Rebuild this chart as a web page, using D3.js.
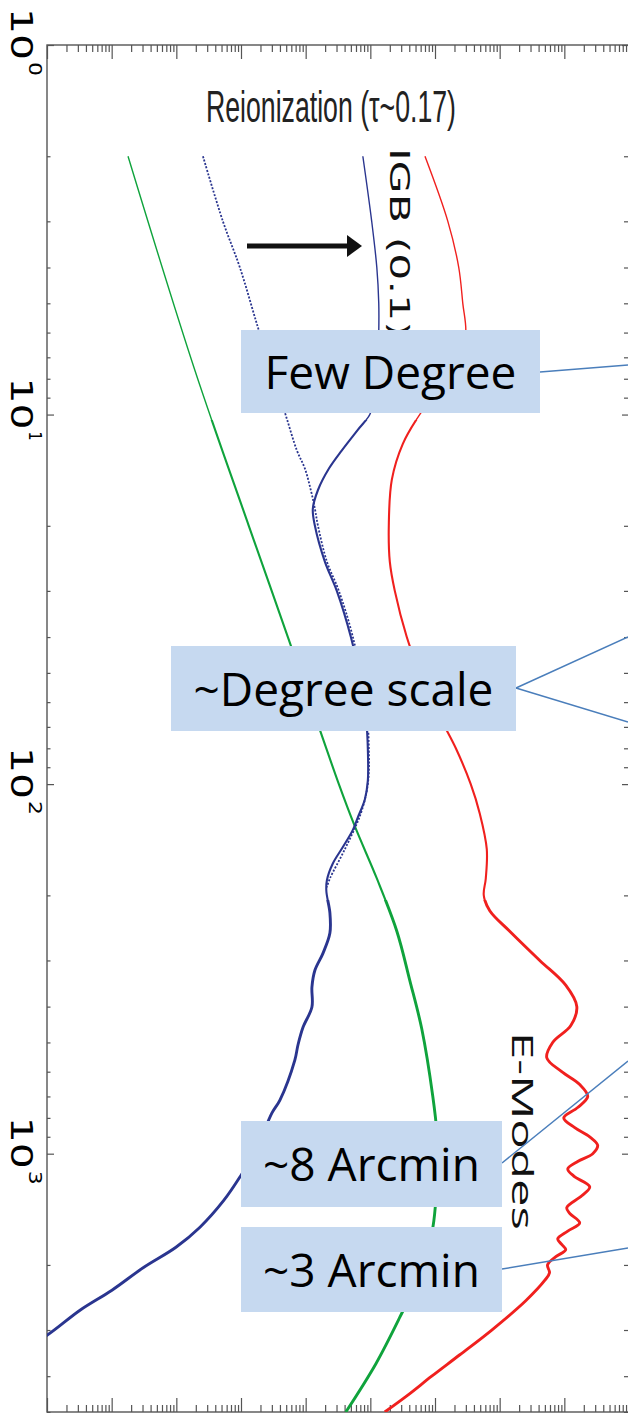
<!DOCTYPE html>
<html>
<head>
<meta charset="utf-8">
<script src="https://cdn.jsdelivr.net/npm/d3@7"></script>
<style>
  body { margin: 0; background: #fff; }
  .tick line { stroke: #555; stroke-width: 1.2; }
</style>
</head>
<body>
<div id="chart"></div>
<script>
// CMB polarisation spectra, drawn rotated: multipole l runs down, power runs right

// E-modes (red)
const eEll = [2, 3, 4, 5, 6, 7, 8, 9, 10, 12, 15, 20, 25, 30, 40, 50, 60, 70, 80, 100, 120, 150, 180, 200,
  220, 250, 300, 350, 400, 450, 500, 550, 600, 650, 700, 750, 800, 850, 900, 950, 1000, 1050, 1100, 1150,
  1230, 1300, 1400, 1450, 1540, 1620, 1700, 1760, 1820, 1900, 2000, 2100, 2200, 2500, 3000, 3500, 4000, 4500, 5000];
const eMode = [0.70, 1.58, 2.33, 2.69, 2.99, 2.42, 1.58, 0.92, 0.58, 0.318, 0.215, 0.193, 0.20, 0.239, 0.366, 0.58,
  0.89, 1.42, 2.10, 3.57, 4.92, 6.32, 6.10, 5.68, 7.03, 14.3, 41.7, 105, 156, 126, 66, 53.5, 91, 173, 230, 161,
  98, 145, 247, 328, 275, 161, 113, 140, 247, 186, 109, 121, 173, 113, 79, 91, 105, 74, 55, 59, 50, 25.3, 7.55,
  2.42, 0.89, 0.38, 0.167];

// IGB, r = 0.1 (blue solid)
const bEll = [2, 3, 4, 5, 6, 7, 8, 9, 10, 11, 12.5, 14, 16, 18, 20, 25, 30, 40, 50, 60, 70, 80, 98, 110, 123, 133,
  148, 164, 182, 195, 223, 253, 287, 319, 354, 401, 455, 508, 558, 716, 777, 978, 1157, 1336, 1581, 1791, 2029,
  2341, 2652, 3100, 3400];
const bMode = [0.0766, 0.105, 0.126, 0.135, 0.135, 0.131, 0.126, 0.117, 0.098, 0.064, 0.0363, 0.0229, 0.0155,
  0.0129, 0.0139, 0.0198, 0.0303, 0.050, 0.0664, 0.079, 0.088, 0.0914, 0.0914, 0.0822, 0.0641, 0.0537, 0.0376,
  0.0263, 0.0213, 0.0209, 0.0237, 0.0237, 0.0185, 0.0139, 0.0125, 0.0125, 0.0091, 0.0076, 0.0068, 0.0040, 0.0030,
  0.0017, 0.00096, 0.000545, 0.000232, 0.0000986, 0.0000315, 0.0000101, 0.00000324, 0.000001, 0.0000004];

// IGB without reionization (blue dotted)
const bNoReionEll = [2, 3, 4, 5.8, 8, 10, 12.5, 14, 16, 18, 20, 25, 30, 40, 60, 80, 100, 120, 150, 180, 190];
const bNoReion = [0.000258, 0.000525, 0.000961, 0.00182, 0.00323, 0.00488, 0.00731, 0.00973, 0.0120, 0.0139,
  0.0155, 0.0213, 0.0326, 0.0537, 0.0851, 0.0948, 0.0914, 0.0713, 0.0404, 0.0237, 0.0213];

// green curve
const gEll = [2, 7.6, 20, 40, 100, 130, 180, 250, 340, 460, 700, 880, 1100, 1340, 1640, 2240, 2770, 3700, 5000];
const gVal = [0.0000179, 0.000194, 0.00132, 0.00531, 0.0326, 0.0575, 0.126, 0.257, 0.408, 0.625, 0.925, 1.07,
  1.10, 1.03, 0.893, 0.505, 0.286, 0.122, 0.0418];

// left axis labels (exponents of 10)
const yLabelExps = ['0', '1', '2', '3'];

// callout boxes
const callouts = [
  { text: 'Few Degree', box: [241, 330, 299, 83], from: [540, 372], to: [[628, 365]] },
  { text: '~Degree scale', box: [171, 646, 345, 85], from: [516, 688], to: [[628, 637], [628, 722]] },
  { text: '~8 Arcmin', box: [241, 1121, 261, 86], from: [502, 1163], to: [[628, 1061]] },
  { text: '~3 Arcmin', box: [241, 1227, 261, 85], from: [502, 1269], to: [[628, 1248]] }
];

const W = 628, H = 1413;
const plot = { left: 47, top: 45, right: 629, bottom: 1412 };

const svg = d3.select('#chart').append('svg')
  .attr('width', W)
  .attr('height', H);

const x = d3.scaleLog().domain([1e-6, 1e3]).range([plot.left, plot.right]);
const y = d3.scaleLog().domain([1, 5000]).range([plot.top, plot.bottom]);

const isMajor = v => Math.abs(Math.log10(v) - Math.round(Math.log10(v))) < 1e-6;

// ticks on all four sides, pointing inwards
function ticks(axisFn, scale, transform, majorLen, minorLen) {
  const vals = scale.ticks();
  [[vals.filter(isMajor), majorLen], [vals.filter(v => !isMajor(v)), minorLen]].forEach(([tv, len]) => {
    const g = svg.append('g')
      .attr('transform', transform)
      .call(axisFn(scale).tickValues(tv).tickSize(len).tickFormat(''));
    g.select('.domain').remove();
  });
}
ticks(d3.axisBottom, x, `translate(0,${plot.top})`, 14, 7);
ticks(d3.axisTop, x, `translate(0,${plot.bottom})`, 14, 7);
ticks(d3.axisRight, y, `translate(${plot.left},0)`, 7, 3.5);
ticks(d3.axisLeft, y, `translate(${plot.right},0)`, 7, 5);

svg.append('rect')
  .attr('x', plot.left).attr('y', plot.top)
  .attr('width', plot.right - plot.left).attr('height', plot.bottom - plot.top)
  .attr('fill', 'none').attr('stroke', '#555').attr('stroke-width', 1.4);

// rotated decade labels
yLabelExps.forEach(e => {
  const ty = y(Math.pow(10, +e));
  svg.append('text')
    .attr('transform', `translate(11,${ty - 37}) rotate(90)`)
    .attr('font-family', 'DejaVu Sans').attr('font-size', 30)
    .attr('textLength', 52).attr('lengthAdjust', 'spacingAndGlyphs')
    .text('10');
  svg.append('text')
    .attr('transform', `translate(29,${ty + 17}) rotate(90)`)
    .attr('font-family', 'DejaVu Sans').attr('font-size', 18)
    .attr('textLength', e === '1' ? 9 : 14).attr('lengthAdjust', 'spacingAndGlyphs')
    .text(e);
});

// curves
const clip = svg.append('defs');
const bands = [[plot.top, 420, 1.4], [420, 900, 2.1], [900, plot.bottom, 2.9]];
bands.forEach(([y0, y1], i) => {
  clip.append('clipPath').attr('id', 'band' + i)
    .append('rect').attr('x', plot.left).attr('y', y0)
    .attr('width', plot.right - plot.left).attr('height', y1 - y0);
});
clip.append('clipPath').attr('id', 'plotclip')
  .append('rect').attr('x', plot.left).attr('y', plot.top)
  .attr('width', plot.right - plot.left).attr('height', plot.bottom - plot.top);

const line = d3.line()
  .x(d => x(d[1]))
  .y(d => y(d[0]))
  .curve(d3.curveCatmullRom.alpha(0.5));

function curve(ell, vals, color) {
  const pts = ell.map((l, i) => [l, vals[i]]);
  bands.forEach(([, , w], i) => {
    svg.append('g').attr('clip-path', 'url(#plotclip)')
      .append('path')
      .attr('clip-path', `url(#band${i})`)
      .attr('d', line(pts))
      .attr('fill', 'none')
      .attr('stroke', color)
      .attr('stroke-width', w)
      .attr('stroke-linejoin', 'round');
  });
}

curve(gEll, gVal, '#0fa33c');
svg.append('path')
  .attr('d', line(bNoReionEll.map((l, i) => [l, bNoReion[i]])))
  .attr('fill', 'none')
  .attr('stroke', '#2a358f')
  .attr('stroke-width', 1.8)
  .attr('stroke-dasharray', '2,1.6');
curve(bEll, bMode, '#2a358f');
curve(eEll, eMode, '#f0201e');

// title and curve labels
svg.append('text')
  .attr('x', 206).attr('y', 122)
  .attr('font-family', 'Liberation Sans').attr('font-size', 44)
  .attr('textLength', 250).attr('lengthAdjust', 'spacingAndGlyphs')
  .attr('fill', '#222')
  .text('Reionization (τ~0.17)');

svg.append('text')
  .attr('transform', 'translate(390,148) rotate(90)')
  .attr('font-family', 'DejaVu Sans').attr('font-size', 27)
  .attr('textLength', 190).attr('lengthAdjust', 'spacingAndGlyphs')
  .attr('fill', '#111')
  .text('IGB (0.1)');

svg.append('text')
  .attr('transform', 'translate(512,1032) rotate(90)')
  .attr('font-family', 'Open Sans').attr('font-size', 29)
  .attr('textLength', 198).attr('lengthAdjust', 'spacingAndGlyphs')
  .attr('fill', '#111')
  .text('E-Modes');

// arrow
svg.append('line')
  .attr('x1', 247).attr('y1', 246).attr('x2', 350).attr('y2', 246)
  .attr('stroke', '#111').attr('stroke-width', 5);
svg.append('path')
  .attr('d', 'M347,235 L362,246 L347,257 Z')
  .attr('fill', '#111');

// callouts
callouts.forEach(c => {
  const [bx, by, bw, bh] = c.box;
  c.to.forEach(t => {
    svg.append('line')
      .attr('x1', c.from[0]).attr('y1', c.from[1])
      .attr('x2', t[0]).attr('y2', t[1])
      .attr('stroke', '#4a7ebb').attr('stroke-width', 1.5);
  });
  svg.append('rect')
    .attr('x', bx).attr('y', by).attr('width', bw).attr('height', bh)
    .attr('fill', '#c6d9f0');
  svg.append('text')
    .attr('x', bx + bw / 2).attr('y', by + bh / 2 + 17)
    .attr('text-anchor', 'middle')
    .attr('font-family', 'Open Sans').attr('font-size', 46)
    .attr('fill', '#000')
    .text(c.text);
});
</script>
</body>
</html>
